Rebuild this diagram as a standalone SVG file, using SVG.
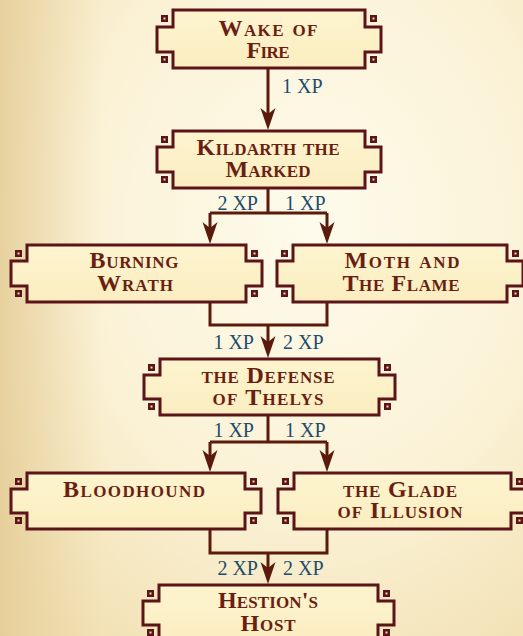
<svg xmlns="http://www.w3.org/2000/svg" width="523" height="636" viewBox="0 0 523 636">
<defs>
<radialGradient id="bg" cx="0.6" cy="0.35" r="0.8">
<stop offset="0" stop-color="#fefbec"/>
<stop offset="0.55" stop-color="#fbf2d6"/>
<stop offset="1" stop-color="#f1e0b2"/>
</radialGradient>
<linearGradient id="lft" x1="0" y1="0" x2="1" y2="0">
<stop offset="0" stop-color="#e2c992" stop-opacity="0.75"/>
<stop offset="0.2" stop-color="#e8d3a2" stop-opacity="0"/>
</linearGradient>
<linearGradient id="nf" x1="0" y1="0" x2="0" y2="1">
<stop offset="0" stop-color="#fdf4cf"/>
<stop offset="1" stop-color="#fbedc0"/>
</linearGradient>
<path id="hd" d="M-7.5,-22 L0,-16 L7.5,-22 L0,0 Z" fill="#5a1a0c"/>
<g id="kn"><rect x="0" y="0" width="7" height="7" fill="#5b1518"/><rect x="2.5" y="2.5" width="2" height="2" fill="#f3dfb0"/></g>
<style>
.nb{fill:url(#nf);stroke:#5b1518;stroke-width:3;stroke-linejoin:miter}
.nt{font-family:"Liberation Serif",serif;font-size:24px;font-weight:bold;font-variant:small-caps;fill:#6a1f12;text-anchor:middle}
.xp{font-family:"Liberation Serif",serif;font-size:20px;fill:#1d4c6c}
.cn{fill:none;stroke:#5a1a0c;stroke-width:3}
</style>
</defs>
<rect width="523" height="636" fill="url(#bg)"/>
<rect width="523" height="636" fill="url(#lft)"/>

<g id="connectors">
<path class="cn" d="M268,68 V118"/>
<use href="#hd" x="268" y="130"/>
<path class="cn" d="M268,188 V213 M210,213 H327 M210,213 V233 M327,213 V233"/>
<use href="#hd" x="210" y="244"/>
<use href="#hd" x="327" y="244"/>
<path class="cn" d="M210,302 V325 H327 V302 M268,325 V346"/>
<use href="#hd" x="268" y="358"/>
<path class="cn" d="M268,415 V442 M210,442 H327 M210,442 V461 M327,442 V461"/>
<use href="#hd" x="210" y="472"/>
<use href="#hd" x="327" y="472"/>
<path class="cn" d="M210,529 V553 H327 V529 M268,553 V573"/>
<use href="#hd" x="268" y="584"/>
<text class="xp" x="282" y="93">1 XP</text>
<text class="xp" x="258" y="210" text-anchor="end">2 XP</text>
<text class="xp" x="285" y="210">1 XP</text>
<text class="xp" x="254" y="349" text-anchor="end">1 XP</text>
<text class="xp" x="283" y="349">2 XP</text>
<text class="xp" x="254" y="437" text-anchor="end">1 XP</text>
<text class="xp" x="285" y="437">1 XP</text>
<text class="xp" x="258" y="575" text-anchor="end">2 XP</text>
<text class="xp" x="283" y="575">2 XP</text>
</g>

<g id="wake">
<path class="nb" d="M173,10 H365 V27 H381 V52 H365 V68 H173 V52 H157 V27 H173 Z"/>
<use href="#kn" x="161" y="15"/><use href="#kn" x="370" y="15"/>
<use href="#kn" x="161" y="56"/><use href="#kn" x="370" y="56"/>
<text class="nt" x="268" y="36" textLength="99">Wake of</text>
<text class="nt" x="268" y="58" textLength="43">Fire</text>
</g>

<g id="kildarth">
<path class="nb" d="M173,131 H365 V147 H381 V172 H365 V188 H173 V172 H157 V147 H173 Z"/>
<use href="#kn" x="161" y="136"/><use href="#kn" x="370" y="136"/>
<use href="#kn" x="161" y="176"/><use href="#kn" x="370" y="176"/>
<text class="nt" x="268" y="155" textLength="143">Kildarth the</text>
<text class="nt" x="268" y="177" textLength="85">Marked</text>
</g>

<g id="burning">
<path class="nb" d="M27,245 H246 V261 H262 V286 H246 V302 H27 V286 H11 V261 H27 Z"/>
<use href="#kn" x="15" y="250"/><use href="#kn" x="251" y="250"/>
<use href="#kn" x="15" y="290"/><use href="#kn" x="251" y="290"/>
<text class="nt" x="134" y="268" textLength="89">Burning</text>
<text class="nt" x="135" y="291" textLength="76">Wrath</text>
</g>

<g id="moth">
<path class="nb" d="M293,245 H507 V261 H523 V286 H507 V302 H293 V286 H277 V261 H293 Z"/>
<use href="#kn" x="281" y="250"/><use href="#kn" x="512" y="250"/>
<use href="#kn" x="281" y="290"/><use href="#kn" x="512" y="290"/>
<text class="nt" x="402" y="268" textLength="115">Moth and</text>
<text class="nt" x="401" y="291" textLength="117">The Flame</text>
</g>

<g id="defense">
<path class="nb" d="M160,359 H379 V375 H395 V399 H379 V415 H160 V399 H144 V375 H160 Z"/>
<use href="#kn" x="148" y="364"/><use href="#kn" x="384" y="364"/>
<use href="#kn" x="148" y="403"/><use href="#kn" x="384" y="403"/>
<text class="nt" x="268" y="383" textLength="133">the Defense</text>
<text class="nt" x="268" y="405" textLength="111">of Thelys</text>
</g>

<g id="bloodhound">
<path class="nb" d="M27,473 H245 V489 H261 V513 H245 V529 H27 V513 H11 V489 H27 Z"/>
<use href="#kn" x="15" y="478"/><use href="#kn" x="250" y="478"/>
<use href="#kn" x="15" y="517"/><use href="#kn" x="250" y="517"/>
<text class="nt" x="134" y="497" textLength="142">Bloodhound</text>
</g>

<g id="glade">
<path class="nb" d="M294,473 H511 V489 H527 V513 H511 V529 H294 V513 H278 V489 H294 Z"/>
<use href="#kn" x="282" y="478"/><use href="#kn" x="516" y="478"/>
<use href="#kn" x="282" y="517"/><use href="#kn" x="516" y="517"/>
<text class="nt" x="400" y="497" textLength="114">the Glade</text>
<text class="nt" x="400" y="518" textLength="125">of Illusion</text>
</g>

<g id="hestion">
<path class="nb" d="M159,585 H378 V601 H394 V625 H378 V641 H159 V625 H143 V601 H159 Z"/>
<use href="#kn" x="147" y="590"/><use href="#kn" x="383" y="590"/>
<use href="#kn" x="147" y="629"/><use href="#kn" x="383" y="629"/>
<text class="nt" x="268" y="608" textLength="100">Hestion's</text>
<text class="nt" x="268" y="631" textLength="55">Host</text>
</g>
</svg>
